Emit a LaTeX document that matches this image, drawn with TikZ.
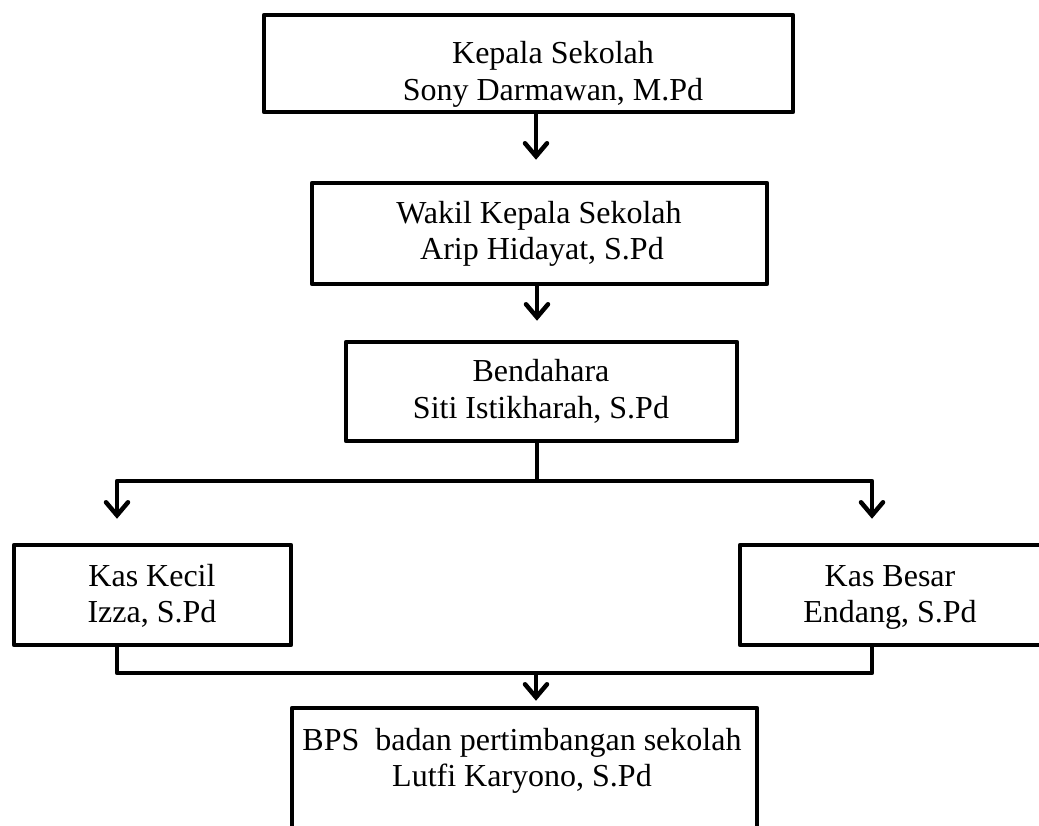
\documentclass[tikz,border=0pt]{standalone}
\usepackage{fontspec}
\setmainfont{Liberation Serif}
\usetikzlibrary{arrows.meta}
\tikzset{
  orgbox/.style={draw=black, line width=4.5pt, line join=round, rectangle, inner sep=0pt},
  txt/.style={anchor=base, inner sep=0pt, font=\fontsize{32}{37}\selectfont},
  conn/.style={draw=black, line width=4.5pt, line join=round},
  arr/.style={conn, -{Straight Barb[length=13pt,width=22pt,line cap=round]}},
  darr/.style={conn, {Straight Barb[length=13pt,width=22pt,line cap=round]}-{Straight Barb[length=13pt,width=22pt,line cap=round]}}
}
\begin{document}
\begin{tikzpicture}[x=1pt,y=-1pt]
\useasboundingbox (0,0) rectangle (1039,825);
\clip (0,0) rectangle (1039,825);

% boxes
\node[orgbox, minimum width=529pt, minimum height=97pt] (b1) at (528.5,63.5) {};
\node[orgbox, minimum width=455pt, minimum height=101pt] (b2) at (539.5,233.5) {};
\node[orgbox, minimum width=391pt, minimum height=99pt] (b3) at (541.5,391.5) {};
\node[orgbox, minimum width=277pt, minimum height=100pt] (b4) at (152.5,595) {};
\node[orgbox, minimum width=302pt, minimum height=100pt] (b5) at (891,595) {};
\node[orgbox, minimum width=465pt, minimum height=172pt] (b6) at (524.5,794) {};

% texts
\node[txt] (t1a) at (553,63) {Kepala Sekolah};
\node[txt] (t1b) at (553,100) {Sony Darmawan, M.Pd};
\node[txt] (t2a) at (539,223) {Wakil Kepala Sekolah};
\node[txt] (t2b) at (542,259) {Arip Hidayat, S.Pd};
\node[txt] (t3a) at (541,381) {Bendahara};
\node[txt] (t3b) at (541,418) {Siti Istikharah, S.Pd};
\node[txt] (t4a) at (152,586) {Kas Kecil};
\node[txt] (t4b) at (152,622) {Izza, S.Pd};
\node[txt] (t5a) at (890,586) {Kas Besar};
\node[txt] (t5b) at (890,622) {Endang, S.Pd};
\node[txt] (t6a) at (522,750) {BPS\ \ badan pertimbangan sekolah};
\node[txt] (t6b) at (522,786) {Lutfi Karyono, S.Pd};

% connector coordinates
\coordinate (cx) at (536,0);
\coordinate (cx3) at (537,0);
\coordinate (jl) at (117,481);
\coordinate (jr) at (872,481);
\coordinate (kl) at (117,673);
\coordinate (kr) at (872,673);
\coordinate (km) at (536,673);

% connectors
\draw[arr, shorten >=21pt] (b1.south -| cx) -- (b2.north -| cx);
\draw[arr, shorten >=19pt] (b2.south -| cx3) -- (b3.north -| cx3);
\draw[conn] (b3.south -| cx3) -- (cx3 |- jl);
\draw[darr, shorten <=24pt, shorten >=24pt] (jl |- b4.north) -- (jl) -- (jr) -- (jr |- b5.north);
\draw[conn] (kl |- b4.south) -- (kl) -- (kr) -- (kr |- b5.south);
\draw[arr, shorten >=5pt] (km) -- (km |- b6.north);
\end{tikzpicture}
\end{document}
